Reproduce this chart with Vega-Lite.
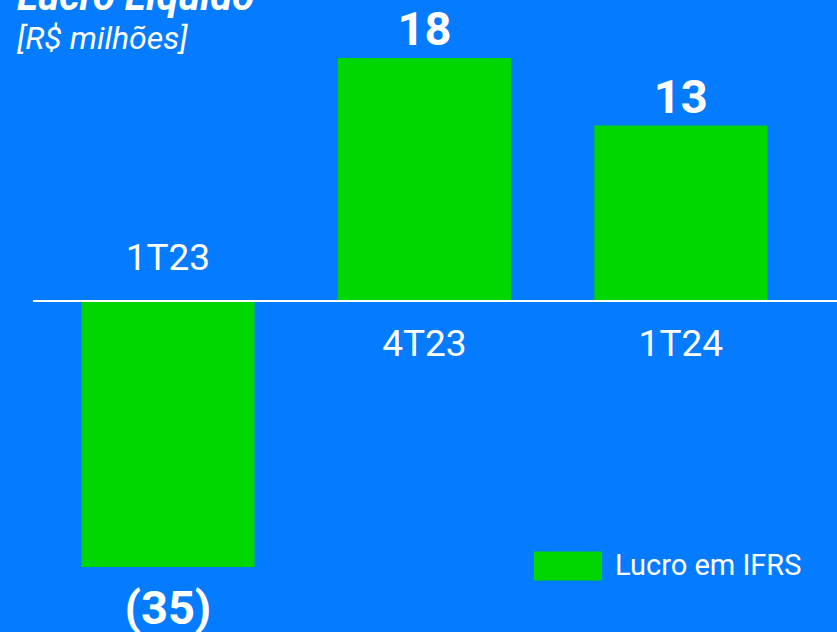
{
  "$schema": "https://vega.github.io/schema/vega-lite/v6.json",
  "autosize": {"type": "none"},
  "width": 804,
  "height": 567,
  "padding": {"left": 33, "top": 0, "right": 0, "bottom": 65},
  "background": "#057CFF",
  "title": {
    "text": "Lucro Líquido",
    "subtitle": "[R$ milhões]",
    "anchor": "start",
    "frame": "group",
    "offset": -55,
    "dx": -16,
    "font": "Roboto",
    "fontSize": 40,
    "fontWeight": "bold",
    "fontStyle": "italic",
    "color": "white",
    "subtitleFont": "Roboto",
    "subtitleFontSize": 32,
    "subtitleFontStyle": "italic",
    "subtitleColor": "white",
    "subtitlePadding": 6
  },
  "config": {"view": {"stroke": null}},
  "data": {
    "values": [
      {"trimestre": "1T23", "lucro": -35, "serie": "Lucro em IFRS"},
      {"trimestre": "4T23", "lucro": 18, "serie": "Lucro em IFRS"},
      {"trimestre": "1T24", "lucro": 13, "serie": "Lucro em IFRS"}
    ]
  },
  "layer": [
    {
      "mark": {"type": "bar"},
      "encoding": {
        "x": {
          "field": "trimestre",
          "type": "nominal",
          "sort": null,
          "axis": null,
          "scale": {"paddingInner": 0.325, "paddingOuter": 0.23, "align": 0.41}
        },
        "y": {
          "field": "lucro",
          "type": "quantitative",
          "axis": null,
          "scale": {"domain": [-19.7, 22.3], "nice": false, "zero": false, "clamp": true}
        },
        "color": {
          "field": "serie",
          "type": "nominal",
          "scale": {"domain": ["Lucro em IFRS"], "range": ["#00D600"]},
          "legend": {
            "title": null,
            "orient": "none",
            "legendX": 501,
            "legendY": 532,
            "symbolType": "M-1,-0.426H1V0.426H-1Z",
            "symbolSize": 4624,
            "symbolStrokeWidth": 0,
            "labelFont": "Roboto",
            "labelFontSize": 29,
            "labelColor": "white",
            "labelOffset": 13,
            "labelLimit": 400
          }
        }
      }
    },
    {
      "mark": {"type": "rule", "color": "white", "strokeWidth": 2},
      "encoding": {"y": {"datum": 0, "type": "quantitative"}}
    },
    {
      "transform": [{"filter": "datum.lucro >= 0"}],
      "mark": {"type": "text", "font": "Roboto", "fontSize": 47, "fontWeight": "bold", "color": "white", "baseline": "alphabetic", "dy": -13},
      "encoding": {
        "x": {"field": "trimestre", "type": "nominal", "sort": null},
        "y": {"field": "lucro", "type": "quantitative"},
        "text": {"field": "lucro", "type": "quantitative", "format": "(.0f"}
      }
    },
    {
      "transform": [{"filter": "datum.lucro < 0"}],
      "mark": {"type": "text", "font": "Roboto", "fontSize": 47, "fontWeight": "bold", "color": "white", "baseline": "alphabetic", "dy": 57},
      "encoding": {
        "x": {"field": "trimestre", "type": "nominal", "sort": null},
        "y": {"field": "lucro", "type": "quantitative"},
        "text": {"field": "lucro", "type": "quantitative", "format": "(.0f"}
      }
    },
    {
      "transform": [{"filter": "datum.lucro >= 0"}],
      "mark": {"type": "text", "font": "Roboto", "fontSize": 37, "color": "white", "baseline": "alphabetic", "dy": 55},
      "encoding": {
        "x": {"field": "trimestre", "type": "nominal", "sort": null},
        "y": {"datum": 0, "type": "quantitative"},
        "text": {"field": "trimestre"}
      }
    },
    {
      "transform": [{"filter": "datum.lucro < 0"}],
      "mark": {"type": "text", "font": "Roboto", "fontSize": 37, "color": "white", "baseline": "alphabetic", "dy": -31},
      "encoding": {
        "x": {"field": "trimestre", "type": "nominal", "sort": null},
        "y": {"datum": 0, "type": "quantitative"},
        "text": {"field": "trimestre"}
      }
    }
  ]
}
